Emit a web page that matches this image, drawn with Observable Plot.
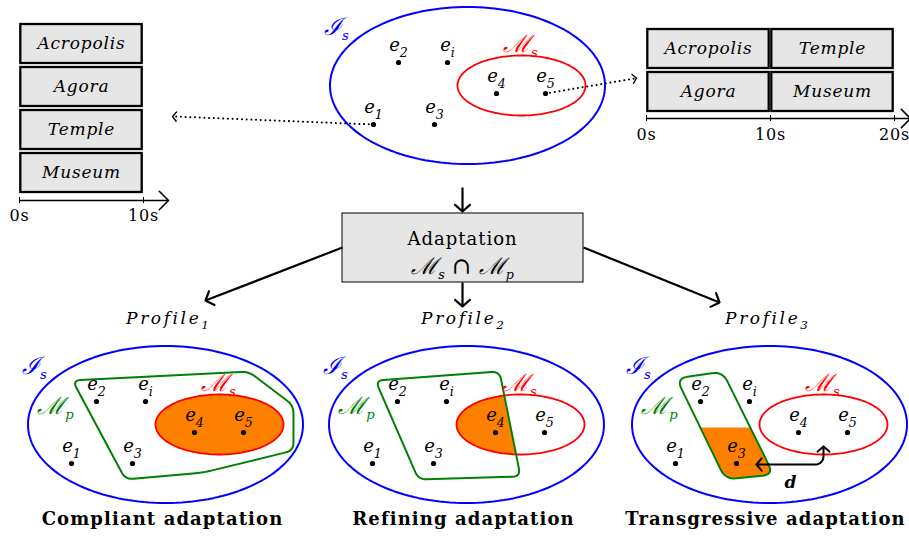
<!DOCTYPE html>
<html><head><meta charset="utf-8">
<script src="https://cdn.jsdelivr.net/npm/d3@7"></script>
<script src="https://cdn.jsdelivr.net/npm/@observablehq/plot@0.6"></script>
<style>body{margin:0;background:#fff} svg text{white-space:pre}</style>
</head><body><div id="chart"></div>
<script>
// ---------- data ----------
const elementNames = ["e_1", "e_2", "e_3", "e_4", "e_5", "e_i"];
const elementX = [-94, -69, -33, 29, 78, -20];
const elementY = [39, -23, 39, 8, 8, -23];

const panelNames = ["top", "compliant", "refining", "transgressive"];
const panelX = [467, 165, 466, 769];
const panelY = [85, 424, 424, 424];
const captions = ["Compliant adaptation", "Refining adaptation", "Transgressive adaptation"];
const profiles = ["Profile_1", "Profile_2", "Profile_3"];

const universeRx = 137.5, universeRy = 78.5;
const spotX = 54, spotY = 0, spotRx = 64, spotRy = 30;

const profileShapes = [
  [[-93, -44], [83, -53], [128, -19], [128, 26], [38, 48], [-40, 55]],
  [[-91, -44], [33, -53], [54, 52], [-48, 55]],
  [[-93, -46], [-47, -53], [4, 50], [-44, 55]]
];
const profileRadius = [8, 8, 11];
const transgressCutY = 3;

const secPx = 12.4;
const leftNames = ["Acropolis", "Agora", "Temple", "Museum"];
const leftStart = [0, 0, 0, 0], leftEnd = [10, 10, 10, 10], leftRow = [0, 1, 2, 3];
const rightNames = ["Acropolis", "Temple", "Agora", "Museum"];
const rightStart = [0, 10, 0, 10], rightEnd = [10, 20, 10, 20], rightRow = [0, 0, 1, 1];
const leftTicks = [0, 10], rightTicks = [0, 10, 20];

const flowStartX = [462, 462, 342, 583], flowStartY = [187, 282, 247, 247];
const flowEndX = [462, 462, 205, 719], flowEndY = [211, 306, 300, 302];

// ---------- layout ----------
const L = {ox: 19, oy: 24, axisY: 200, axisEnd: 168};
const R = {ox: 646, oy: 29, axisY: 118, axisEnd: 910};
const rowPitch = 43, rowH = 39;
const BLUE = "#0000ff", RED = "#ff0000", GREEN = "#008000", ORANGE = "#ff8000";
const SERIF = "DejaVu Serif";

// ---------- geometry helpers ----------
function ellipsePts(cx, cy, rx, ry, n = 160) {
  return d3.range(n).map(i => { const t = 2 * Math.PI * i / n; return [cx + rx * Math.cos(t), cy + ry * Math.sin(t)]; });
}
function roundPoly(v, r, steps = 8) {
  const out = [], n = v.length;
  for (let i = 0; i < n; i++) {
    const P = v[(i - 1 + n) % n], V = v[i], N = v[(i + 1) % n];
    const dp = Math.hypot(P[0] - V[0], P[1] - V[1]), dn = Math.hypot(N[0] - V[0], N[1] - V[1]);
    const rr = Math.min(r, dp * 0.45, dn * 0.45);
    const a = [V[0] + rr * (P[0] - V[0]) / dp, V[1] + rr * (P[1] - V[1]) / dp];
    const b = [V[0] + rr * (N[0] - V[0]) / dn, V[1] + rr * (N[1] - V[1]) / dn];
    for (let k = 0; k <= steps; k++) {
      const t = k / steps, u = 1 - t;
      out.push([u * u * a[0] + 2 * u * t * V[0] + t * t * b[0], u * u * a[1] + 2 * u * t * V[1] + t * t * b[1]]);
    }
  }
  return out;
}
function clipPoly(subject, clip) {
  let s = 0;
  for (let i = 0; i < clip.length; i++) { const a = clip[i], b = clip[(i + 1) % clip.length]; s += a[0] * b[1] - b[0] * a[1]; }
  const sg = Math.sign(s);
  let out = subject;
  for (let i = 0; i < clip.length; i++) {
    const A = clip[i], B = clip[(i + 1) % clip.length];
    const inside = p => sg * ((B[0] - A[0]) * (p[1] - A[1]) - (B[1] - A[1]) * (p[0] - A[0])) >= 0;
    const inter = (p, q) => {
      const x1 = p[0], y1 = p[1], x2 = q[0], y2 = q[1], x3 = A[0], y3 = A[1], x4 = B[0], y4 = B[1];
      const den = (x1 - x2) * (y3 - y4) - (y1 - y2) * (x3 - x4);
      const t = ((x1 - x3) * (y3 - y4) - (y1 - y3) * (x3 - x4)) / den;
      return [x1 + t * (x2 - x1), y1 + t * (y2 - y1)];
    };
    const input = out; out = [];
    for (let j = 0; j < input.length; j++) {
      const cur = input[j], prev = input[(j - 1 + input.length) % input.length];
      if (inside(cur)) { if (!inside(prev)) out.push(inter(prev, cur)); out.push(cur); }
      else if (inside(prev)) out.push(inter(prev, cur));
    }
  }
  return out;
}
function chevron(x1, y1, x2, y2, len, ang) {
  const d = Math.hypot(x2 - x1, y2 - y1), ux = (x2 - x1) / d, uy = (y2 - y1) / d, a = ang * Math.PI / 180;
  const w = s => { const c = Math.cos(s * a), sn = Math.sin(s * a); return [x2 - len * (ux * c - uy * sn), y2 - len * (ux * sn + uy * c)]; };
  return [w(1), [x2, y2], w(-1)];
}
const toRows = (g, pts, dx = 0, dy = 0) => pts.map(p => ({g, x: p[0] + dx, y: p[1] + dy}));

// ---------- build shapes ----------
const blueRows = [], redRows = [], greenRows = [], orangeRows = [], dotRows = [], labelRows = [];
panelNames.forEach((name, i) => {
  const cx = panelX[i], cy = panelY[i];
  blueRows.push(...toRows(name, ellipsePts(0, 0, universeRx, universeRy), cx, cy));
  const red = ellipsePts(spotX, spotY, spotRx, spotRy);
  redRows.push(...toRows(name, red, cx, cy));
  elementNames.forEach((e, k) => {
    dotRows.push({x: cx + elementX[k], y: cy + elementY[k]});
    labelRows.push({x: cx + elementX[k], y: cy + elementY[k] - 17, t: e});
  });
  if (i > 0) {
    const shape = roundPoly(profileShapes[i - 1], profileRadius[i - 1]);
    greenRows.push(...toRows(name, shape, cx, cy));
    let fill;
    if (i < 3) fill = clipPoly(red, shape);
    else fill = clipPoly(shape, [[-300, transgressCutY], [300, transgressCutY], [300, 300], [-300, 300]]);
    orangeRows.push(...toRows(name, fill, cx, cy));
  }
});

// timeline boxes
const boxes = [];
leftNames.forEach((n, i) => boxes.push({x1: L.ox + leftStart[i] * secPx, x2: L.ox + leftEnd[i] * secPx,
  y1: L.oy + leftRow[i] * rowPitch, y2: L.oy + leftRow[i] * rowPitch + rowH, t: n}));
rightNames.forEach((n, i) => boxes.push({x1: R.ox + rightStart[i] * secPx, x2: R.ox + rightEnd[i] * secPx,
  y1: R.oy + rightRow[i] * rowPitch, y2: R.oy + rightRow[i] * rowPitch + rowH, t: n}));

// arrows
const heads = [], solidLinks = [];
flowStartX.forEach((x, i) => {
  solidLinks.push({x1: x, y1: flowStartY[i], x2: flowEndX[i], y2: flowEndY[i], w: 2.2});
  heads.push(...toRows("f" + i, chevron(x, flowStartY[i], flowEndX[i], flowEndY[i], 10, 48)).map(d => ({...d, w: 2.2})));
});
[[L, "la"], [R, "ra"]].forEach(([A, id]) => {
  solidLinks.push({x1: A.ox, y1: A.axisY, x2: A.axisEnd, y2: A.axisY, w: 1.6});
  heads.push(...toRows(id, chevron(A.ox, A.axisY, A.axisEnd, A.axisY, 13, 45)).map(d => ({...d, w: 1.6})));
});
const tickRows = [
  ...leftTicks.map(s => ({x: L.ox + s * secPx, y: L.axisY, ly: L.axisY + 15, t: s + "s"})),
  ...rightTicks.map(s => ({x: R.ox + s * secPx, y: R.axisY, ly: R.axisY + 16, t: s + "s"}))
];
const e1 = [panelX[0] + elementX[0], panelY[0] + elementY[0]];
const e5 = [panelX[0] + elementX[4], panelY[0] + elementY[4]];
const dotted = [
  {x1: e1[0], y1: e1[1], x2: 174, y2: 116},
  {x1: e5[0], y1: e5[1], x2: 634, y2: 78}
];
dotted.forEach((d, i) => heads.push(...toRows("d" + i, chevron(d.x1, d.y1, d.x2 + (i ? 2 : -2), d.y2 + (i ? -0.3 : 0), 6, 50)).map(r => ({...r, w: 1.3}))));

const p3x = panelX[3], p3y = panelY[3];
const dPath = [[-13, 40], [46, 40], ...d3.range(90, -1, -15).map(a => [46 + 8 * Math.cos(a * Math.PI / 180), 32 + 8 * Math.sin(a * Math.PI / 180)]), [54, 22]];
const dRows = toRows("dist", dPath, p3x, p3y);
heads.push(...toRows("dh1", chevron(p3x, p3y + 40, p3x - 13, p3y + 40, 8, 50)).map(r => ({...r, w: 2})));
heads.push(...toRows("dh2", chevron(p3x + 54, p3y + 32, p3x + 54, p3y + 22, 8, 50)).map(r => ({...r, w: 2})));

// ---------- texts ----------
const setLabels = [];
panelNames.forEach((n, i) => {
  setLabels.push({x: panelX[i] - 131, y: panelY[i] - 58, t: "ℐ_s", c: BLUE});
  setLabels.push({x: panelX[i] + 53, y: panelY[i] - 41, t: "ℳ_s", c: RED});
  if (i > 0) setLabels.push({x: panelX[i] - 110, y: panelY[i] - 18, t: "ℳ_p", c: GREEN});
});
const captionRows = captions.map((c, i) => ({x: panelX[i + 1] + (i === 2 ? -4 : -3), y: 519, t: c}));
const profileRows = profiles.map((p, i) => ({x: panelX[i + 1] + (i === 0 ? 2 : i === 2 ? -3 : -4), y: 318, t: p}));

const svg = Plot.plot({
  width: 909, height: 537, margin: 0,
  x: {domain: [0, 909], range: [0, 909], axis: null},
  y: {domain: [0, 537], range: [0, 537], axis: null},
  marks: [
    Plot.line(orangeRows, {x: "x", y: "y", z: "g", curve: "linear-closed", fill: ORANGE, stroke: "none"}),
    Plot.line(blueRows, {x: "x", y: "y", z: "g", curve: "linear-closed", stroke: BLUE, strokeWidth: 2}),
    Plot.line(redRows, {x: "x", y: "y", z: "g", curve: "linear-closed", stroke: RED, strokeWidth: 1.8}),
    Plot.line(greenRows, {x: "x", y: "y", z: "g", curve: "linear-closed", stroke: GREEN, strokeWidth: 2}),
    Plot.link(dotted, {x1: "x1", y1: "y1", x2: "x2", y2: "y2", stroke: "black", strokeWidth: 2, strokeDasharray: "0.1,4.6", strokeLinecap: "round"}),
    Plot.rect(boxes, {x1: "x1", x2: "x2", y1: "y1", y2: "y2", insetLeft: 1.3, insetRight: 1.3, fill: "#e6e6e6", stroke: "black", strokeWidth: 2.3}),
    Plot.rect([{x1: 342, x2: 583, y1: 213, y2: 282}], {x1: "x1", x2: "x2", y1: "y1", y2: "y2", fill: "#e6e6e6", stroke: "black", strokeWidth: 1}),
    Plot.link(solidLinks, {x1: "x1", y1: "y1", x2: "x2", y2: "y2", stroke: "black", strokeWidth: "w"}),
    Plot.line(dRows, {x: "x", y: "y", z: "g", stroke: "black", strokeWidth: 2, strokeLinejoin: "round"}),
    Plot.line(heads, {x: "x", y: "y", z: "g", stroke: "black", strokeWidth: d => d.w, strokeLinejoin: "round", strokeLinecap: "round"}),
    Plot.ruleX(tickRows, {x: "x", y1: d => d.y - 3, y2: d => d.y + 3, stroke: "black", strokeWidth: 1}),
    Plot.dot(dotRows, {x: "x", y: "y", r: 2.6, fill: "black"}),
    Plot.text(labelRows, {x: "x", y: "y", text: "t", fontFamily: SERIF, fontStyle: "italic", fontSize: 18, fill: "black"}),
    Plot.text(setLabels, {x: "x", y: "y", text: "t", fontFamily: SERIF, fontStyle: "italic", fontSize: 24, fill: "c"}),
    Plot.text(boxes, {x: d => (d.x1 + d.x2) / 2, y: d => (d.y1 + d.y2) / 2, text: "t", fontFamily: SERIF, fontStyle: "italic", fontSize: 17, fill: "black"}),
    Plot.text(tickRows, {x: "x", y: "ly", text: "t", fontFamily: SERIF, fontSize: 16, fill: "black"}),
    Plot.text(["Adaptation"], {x: 462, y: 239, text: d => d, fontFamily: SERIF, fontSize: 18, fill: "black"}),
    Plot.text(["ℳ_s ∩ ℳ_p"], {x: 462, y: 266, text: d => d, fontFamily: SERIF, fontStyle: "italic", fontSize: 23, fill: "black"}),
    Plot.text(profileRows, {x: "x", y: "y", text: "t", fontFamily: SERIF, fontStyle: "italic", fontSize: 17, fill: "black"}),
    Plot.text(captionRows, {x: "x", y: "y", text: "t", fontFamily: SERIF, fontWeight: "bold", fontSize: 18, fill: "black"}),
    Plot.text(["d"], {x: p3x + 21, y: p3y + 58, text: d => d, fontFamily: SERIF, fontStyle: "italic", fontWeight: "bold", fontSize: 17, fill: "black"})
  ]
});
document.getElementById("chart").append(svg);

// letter spacing to approximate the wide TeX fonts
const spacing = t => captions.includes(t) ? 1.1 : profiles.includes(t) ? 2.6 : leftNames.includes(t) ? 0.8 :
  t === "Adaptation" ? 1 : /^\d+s$/.test(t) ? 0.8 : 0;
// subscripts: "a_b" -> a with subscript b
d3.select(svg).selectAll("text").each(function () {
  const t = this.textContent;
  const ls = spacing(t);
  if (ls) this.setAttribute("letter-spacing", ls);
  if (!t.includes("_")) return;
  const fs = parseFloat(getComputedStyle(this).fontSize) || 16;
  const big = t.includes("ℳ") || t.includes("ℐ");
  const k = big ? 0.55 : 0.7, sh = big ? 0.22 : 0.3;
  const parts = t.split(/(_[A-Za-z0-9])/).filter(p => p !== "");
  this.textContent = "";
  const sel = d3.select(this);
  let shifted = false;
  for (const p of parts) {
    if (p.startsWith("_")) {
      sel.append("tspan").attr("font-size", (k * fs) + "px").attr("dy", sh * fs).attr("letter-spacing", 0).text(p.slice(1));
      shifted = true;
    } else {
      const ts = sel.append("tspan").text(p);
      if (shifted) { ts.attr("dy", -sh * fs); shifted = false; }
    }
  }
});
</script>
</body></html>
